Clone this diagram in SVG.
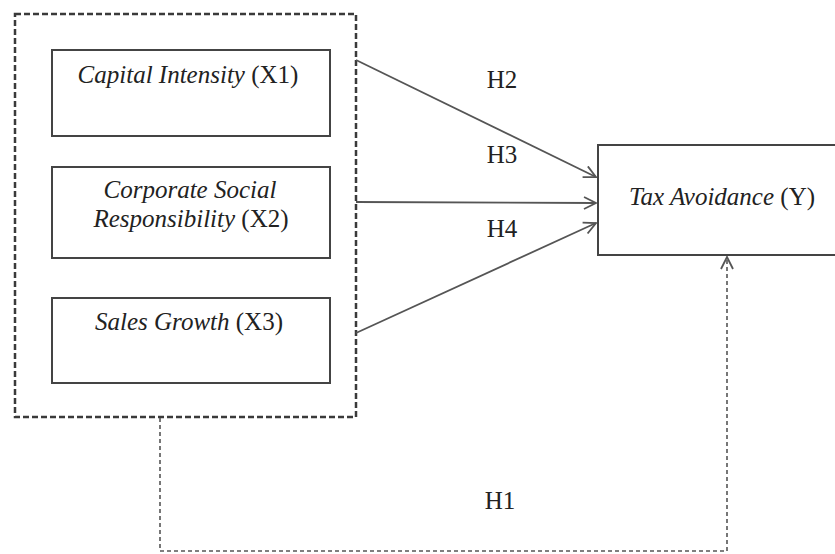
<svg xmlns="http://www.w3.org/2000/svg" width="835" height="554" viewBox="0 0 835 554">
<style>
.box{fill:#fff;stroke:#444;stroke-width:2}
.grp{fill:none;stroke:#3a3a3a;stroke-width:2.5;stroke-dasharray:6 3}
.t{font-family:"Liberation Serif","Times New Roman",serif;font-size:25px;fill:#222;text-anchor:middle}
.i{font-style:italic}
.c{fill:none;stroke:#555;stroke-width:1.8}
.d{fill:none;stroke:#555;stroke-width:1.6;stroke-dasharray:4 3}
</style>
<defs>
<marker id="ah" viewBox="0 0 14 14" refX="13" refY="7" markerWidth="14" markerHeight="14" markerUnits="userSpaceOnUse" orient="auto">
<path d="M1,1 L13,7 L1,13" fill="none" stroke="#555" stroke-width="1.8"/>
</marker>
</defs>
<rect width="835" height="554" fill="#fff"/>
<g id="group-x">
<rect class="grp" x="15" y="14" width="341" height="403"/>
</g>
<g id="x1">
<rect class="box" x="52" y="50" width="278" height="86"/>
<text class="t" x="188" y="83"><tspan class="i">Capital Intensity</tspan> (X1)</text>
</g>
<g id="x2">
<rect class="box" x="52" y="167" width="278" height="91"/>
<text class="t i" x="190" y="198">Corporate Social</text>
<text class="t" x="191" y="227"><tspan class="i">Responsibility</tspan> (X2)</text>
</g>
<g id="x3">
<rect class="box" x="52" y="298" width="278" height="85"/>
<text class="t" x="189" y="330"><tspan class="i">Sales Growth</tspan> (X3)</text>
</g>
<g id="y">
<rect class="box" x="598" y="145" width="250" height="110"/>
<text class="t" x="722" y="205"><tspan class="i">Tax Avoidance</tspan> (Y)</text>
</g>
<g id="connectors">
<line class="c" x1="356" y1="60" x2="596" y2="177" marker-end="url(#ah)"/>
<line class="c" x1="356" y1="202" x2="596" y2="203" marker-end="url(#ah)"/>
<line class="c" x1="356" y1="333" x2="596" y2="223" marker-end="url(#ah)"/>
<polyline class="d" points="160,418 160,551 727,551 727,257" marker-end="url(#ah)"/>
<text class="t" x="502" y="88">H2</text>
<text class="t" x="502" y="163">H3</text>
<text class="t" x="502" y="237">H4</text>
<text class="t" x="500" y="509">H1</text>
</g>
</svg>
